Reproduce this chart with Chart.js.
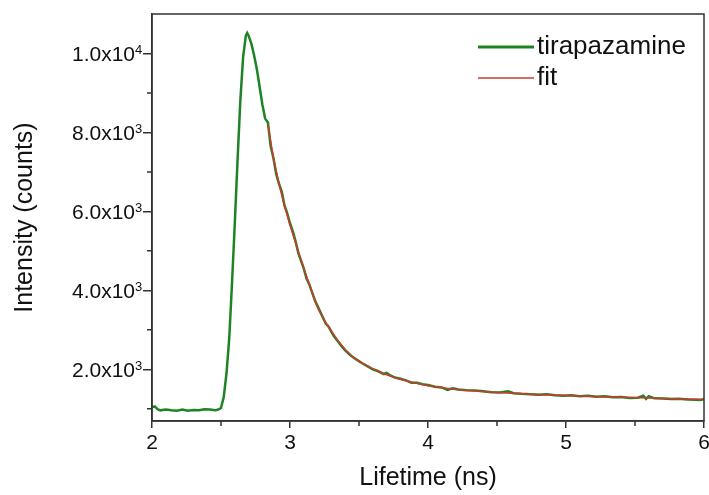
<!doctype html>
<html lang="en">
  <head>
    <meta charset="utf-8">
    <title>Lifetime decay</title>
    <script src="https://cdn.jsdelivr.net/npm/chart.js"></script>
    <style>
      html, body { margin: 0; padding: 0; background: #fff; }
      #wrap { width: 709px; height: 495px; }
    </style>
  </head>
  <body>
    <div id="wrap"><canvas id="decayChart" width="709" height="495"></canvas></div>
    <script>
      // measured decay (ns, counts)
      const dataX = [2.00, 2.02, 2.04, 2.06, 2.10, 2.14, 2.18, 2.22, 2.26, 2.30, 2.34, 2.38, 2.42, 2.46, 2.48,
        2.50, 2.52, 2.54, 2.56, 2.58, 2.60, 2.62, 2.64, 2.66, 2.68, 2.69, 2.70, 2.72, 2.74, 2.76, 2.78,
        2.80, 2.82, 2.84, 2.86, 2.88, 2.90, 2.92, 2.94, 2.96, 2.98, 3.00, 3.02, 3.04, 3.06, 3.08, 3.10,
        3.12, 3.14, 3.16, 3.18, 3.20, 3.22, 3.24, 3.26, 3.28, 3.30, 3.32, 3.34, 3.36, 3.38, 3.40, 3.44,
        3.48, 3.52, 3.56, 3.60, 3.64, 3.68, 3.70, 3.72, 3.76, 3.80, 3.84, 3.88, 3.92, 3.96, 4.00, 4.05,
        4.10, 4.14, 4.18, 4.22, 4.28, 4.34, 4.40, 4.46, 4.52, 4.58, 4.62, 4.68, 4.74, 4.80, 4.86, 4.92,
        4.98, 5.04, 5.10, 5.16, 5.22, 5.28, 5.34, 5.40, 5.46, 5.52, 5.56, 5.58, 5.60, 5.64, 5.70, 5.76,
        5.82, 5.88, 5.94, 5.97, 6.00];
      const dataY = [1040, 1060, 990, 960, 980, 960, 950, 980, 950, 970, 960, 990, 980, 960, 980,
        1020, 1300, 1900, 2800, 4200, 5700, 7300, 8800, 9900, 10450, 10520, 10450, 10250, 9950, 9600, 9150,
        8700, 8350, 8250, 7650, 7350, 6950, 6700, 6500, 6150, 5950, 5700, 5500, 5250, 4950, 4750, 4550,
        4300, 4150, 3950, 3750, 3600, 3450, 3300, 3150, 3080, 2950, 2830, 2740, 2650, 2560, 2480, 2350,
        2250, 2160, 2080, 2000, 1950, 1880, 1910, 1860, 1790, 1760, 1720, 1660, 1660, 1620, 1600, 1560,
        1540, 1480, 1520, 1490, 1470, 1460, 1445, 1420, 1410, 1440, 1395, 1380, 1370, 1355, 1370, 1345,
        1330, 1340, 1320, 1330, 1305, 1315, 1290, 1300, 1275, 1280, 1330, 1250, 1320, 1265, 1260, 1250,
        1255, 1235, 1230, 1220, 1240];

      // fitted curve
      const fitX = [2.84, 2.88, 2.92, 2.96, 3.00, 3.05, 3.10, 3.15, 3.20, 3.25, 3.30, 3.35, 3.40, 3.45,
        3.50, 3.60, 3.70, 3.80, 3.90, 4.00, 4.20, 4.40, 4.60, 4.80, 5.00, 5.20, 5.40, 5.60, 5.80, 6.00];
      const fitY = [8200, 7350, 6700, 6150, 5650, 5100, 4550, 4050, 3560, 3230, 2970, 2710, 2500, 2330,
        2200, 2010, 1860, 1745, 1660, 1585, 1490, 1435, 1395, 1360, 1335, 1310, 1290, 1270, 1255, 1235];

      const xTicks = [2, 3, 4, 5, 6];
      const xMinorTicks = [2.5, 3.5, 4.5, 5.5];
      const yTicks = [2000, 4000, 6000, 8000, 10000];
      const yMinorTicks = [1000, 3000, 5000, 7000, 9000];

      const seriesNames = ['tirapazamine', 'fit'];

      const toPoints = (xs, ys) => xs.map((x, i) => ({ x: x, y: ys[i] }));
      const axisColor = '#333';
      const fontFamily = '"Liberation Sans", Arial, sans-serif';

      // box around the plot, minor ticks, y labels with exponents, inset legend
      const framePlugin = {
        id: 'frame',
        afterDraw(chart) {
          const ctx = chart.ctx;
          const a = chart.chartArea;
          const xs = chart.scales.x, ys = chart.scales.y;
          ctx.save();
          ctx.strokeStyle = axisColor;
          ctx.lineWidth = 1.5;
          ctx.strokeRect(a.left, a.top, a.right - a.left, a.bottom - a.top);
          ctx.beginPath();
          xMinorTicks.forEach(v => {
            const px = xs.getPixelForValue(v);
            ctx.moveTo(px, a.bottom);
            ctx.lineTo(px, a.bottom + 5);
          });
          yMinorTicks.forEach(v => {
            const py = ys.getPixelForValue(v);
            ctx.moveTo(a.left, py);
            ctx.lineTo(a.left - 5, py);
          });
          ctx.stroke();

          // y tick labels, mantissa x10 and a raised exponent
          ctx.fillStyle = '#111';
          ctx.textBaseline = 'alphabetic';
          yTicks.forEach(v => {
            const py = ys.getPixelForValue(v);
            const e = Math.floor(Math.log10(v));
            ctx.font = '21px ' + fontFamily;
            ctx.textAlign = 'right';
            ctx.fillText((v / Math.pow(10, e)).toFixed(1) + 'x10', a.left - 17, py + 8);
            ctx.font = '13px ' + fontFamily;
            ctx.textAlign = 'left';
            ctx.fillText(String(e), a.left - 17, py + 1);
          });

          // legend
          ctx.font = '26px ' + fontFamily;
          ctx.textAlign = 'left';
          ctx.textBaseline = 'middle';
          const rows = [47, 78];
          chart.data.datasets.forEach((ds, i) => {
            const y = rows[i];
            ctx.beginPath();
            ctx.strokeStyle = ds.borderColor;
            ctx.lineWidth = i === 0 ? 3 : 1.5;
            ctx.moveTo(478, y);
            ctx.lineTo(534, y);
            ctx.stroke();
            ctx.fillText(ds.label, 537, y);
          });
          ctx.restore();
        }
      };

      new Chart(document.getElementById('decayChart'), {
        type: 'line',
        data: {
          datasets: [
            {
              label: seriesNames[0],
              data: toPoints(dataX, dataY),
              borderColor: '#1f8326',
              borderWidth: 2.5,
              pointRadius: 0,
              order: 2
            },
            {
              label: seriesNames[1],
              data: toPoints(fitX, fitY),
              borderColor: '#d0392b',
              borderWidth: 1.5,
              pointRadius: 0,
              order: 1
            }
          ]
        },
        options: {
          responsive: false,
          animation: false,
          layout: { padding: { top: 14, right: 5, left: 0, bottom: 0 } },
          plugins: {
            legend: { display: false },
            tooltip: { enabled: false }
          },
          scales: {
            x: {
              type: 'linear',
              min: 2,
              max: 6,
              afterBuildTicks: s => { s.ticks = xTicks.map(v => ({ value: v })); },
              afterFit: s => { s.height = 74; s.paddingLeft = 0; s.paddingRight = 0; },
              border: { display: true, color: axisColor, width: 1.5 },
              grid: { drawOnChartArea: false, drawTicks: true, tickLength: 7, color: axisColor, lineWidth: 1.5 },
              ticks: {
                padding: 3,
                color: '#111',
                font: { family: fontFamily, size: 21 },
                callback: v => String(v)
              },
              title: {
                display: true,
                text: 'Lifetime (ns)',
                color: '#111',
                padding: { top: 0, bottom: 2 },
                font: { family: fontFamily, size: 25 }
              }
            },
            y: {
              type: 'linear',
              min: 690,
              max: 11000,
              afterBuildTicks: s => { s.ticks = yTicks.map(v => ({ value: v })); },
              afterFit: s => { s.width = 152; },
              border: { display: true, color: axisColor, width: 1.5 },
              grid: { drawOnChartArea: false, drawTicks: true, tickLength: 9, color: axisColor, lineWidth: 1.5 },
              ticks: { display: false },
              title: {
                display: true,
                text: 'Intensity (counts)',
                color: '#111',
                padding: { top: 10, bottom: 0 },
                font: { family: fontFamily, size: 25 }
              }
            }
          }
        },
        plugins: [framePlugin]
      });
    </script>
  </body>
</html>
